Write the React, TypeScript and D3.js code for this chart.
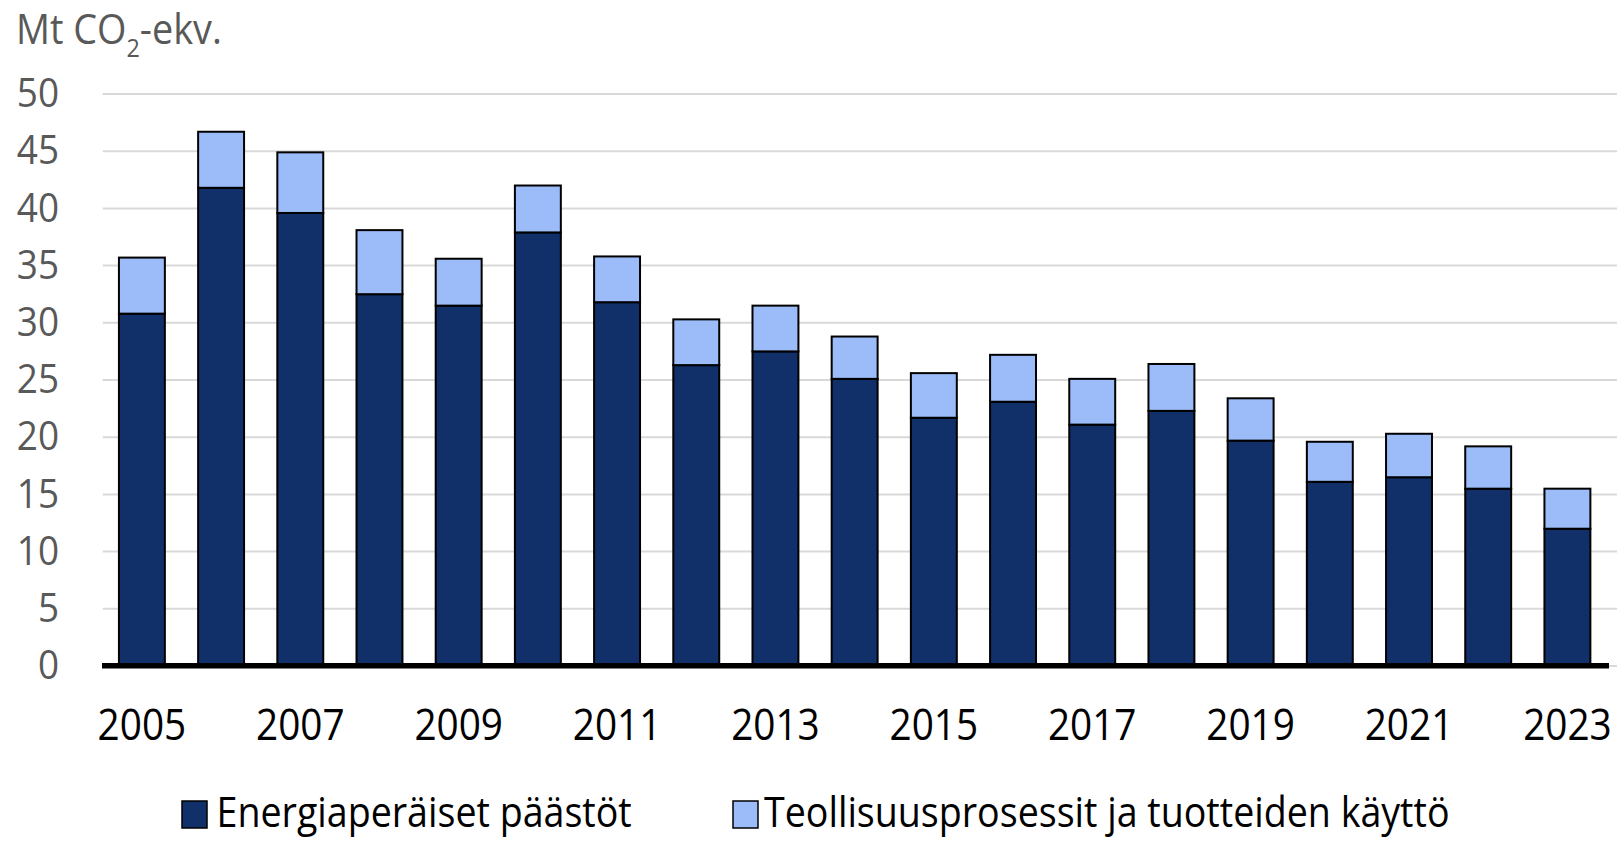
import React from "react";
import * as d3 from "d3";

const years = [
  "2005", "2006", "2007", "2008", "2009", "2010", "2011", "2012", "2013", "2014",
  "2015", "2016", "2017", "2018", "2019", "2020", "2021", "2022", "2023",
];

// Energiaperäiset päästöt (Mt CO2-ekv.)
const energy = [
  30.8, 41.8, 39.6, 32.5, 31.5, 37.9, 31.8, 26.3, 27.5, 25.1,
  21.7, 23.1, 21.1, 22.3, 19.7, 16.1, 16.5, 15.5, 12.0,
];

// Teollisuusprosessit ja tuotteiden käyttö
const industry = [
  4.9, 4.9, 5.3, 5.6, 4.1, 4.1, 4.0, 4.0, 4.0, 3.7,
  3.9, 4.1, 4.0, 4.1, 3.7, 3.5, 3.8, 3.7, 3.5,
];

const yTicks = [0, 5, 10, 15, 20, 25, 30, 35, 40, 45, 50];
const xTickYears = ["2005", "2007", "2009", "2011", "2013", "2015", "2017", "2019", "2021", "2023"];

const seriesNames = ["Energiaperäiset päästöt", "Teollisuusprosessit ja tuotteiden käyttö"];
const colors = ["#112f68", "#9bbcf8"];

const width = 1617;
const height = 841;
const font = "'Open Sans', 'Noto Sans', sans-serif";

export default function App() {
  const x = d3
    .scaleBand()
    .domain(years)
    .range([102.3, 1607])
    .paddingInner(0.42)
    .paddingOuter(0.21);

  const y = d3.scaleLinear().domain([0, 50]).range([666, 94]);

  const rows = years.map((year, i) => ({ year, energy: energy[i], industry: industry[i] }));
  const stacked = d3.stack().keys(["energy", "industry"])(rows as any);

  return (
    <svg
      width={width}
      height={height}
      style={{ position: "absolute", left: 0, top: 0, background: "#fff" }}
      fontFamily={font}
    >
      {/* unit label */}
      <g transform="translate(16,44) scale(0.9,1)">
        <text x={0} y={0} fontSize={42} fill="#595959">
          Mt CO
          <tspan fontSize={26} dy={13}>2</tspan>
          <tspan dy={-13}>-ekv.</tspan>
        </text>
      </g>

      {/* gridlines */}
      {yTicks.map((t) => (
        <line
          key={"g" + t}
          x1={102.7}
          x2={width}
          y1={y(t)}
          y2={y(t)}
          stroke="#d9d9d9"
          strokeWidth={2}
        />
      ))}

      {/* y tick labels */}
      {yTicks.map((t) => (
        <text
          key={"yl" + t}
          x={0}
          y={0}
          fontSize={41}
          fill="#595959"
          textAnchor="end"
          dominantBaseline="central"
          transform={`translate(59,${y(t) - 3}) scale(0.9,1)`}
        >
          {t}
        </text>
      ))}

      {/* stacked bars */}
      {stacked.map((layer, li) => (
        <g key={"s" + li}>
          {layer.map((d, i) => (
            <rect
              key={years[i]}
              x={x(years[i])}
              y={y(d[1])}
              width={x.bandwidth()}
              height={y(d[0]) - y(d[1])}
              fill={colors[li]}
              stroke="#000"
              strokeWidth={2}
            />
          ))}
        </g>
      ))}

      {/* x axis line */}
      <line x1={102} x2={1609} y1={665.7} y2={665.7} stroke="#000" strokeWidth={5.5} />

      {/* x tick labels */}
      {xTickYears.map((yr) => (
        <text
          key={"xl" + yr}
          x={0}
          y={0}
          fontSize={44}
          fill="#000"
          textAnchor="middle"
          transform={`translate(${(x(yr) as number) + x.bandwidth() / 2},740) scale(0.88,1)`}
        >
          {yr}
        </text>
      ))}

      {/* legend */}
      <rect x={182} y={801} width={25} height={27} fill={colors[0]} stroke="#000" strokeWidth={1.5} />
      <text x={0} y={0} fontSize={42} fill="#000" transform="translate(216.5,827) scale(0.895,1)">
        {seriesNames[0]}
      </text>
      <rect x={733} y={801} width={25} height={27} fill={colors[1]} stroke="#000" strokeWidth={1.5} />
      <text x={0} y={0} fontSize={42} fill="#000" transform="translate(764,827) scale(0.895,1)">
        {seriesNames[1]}
      </text>
    </svg>
  );
}
